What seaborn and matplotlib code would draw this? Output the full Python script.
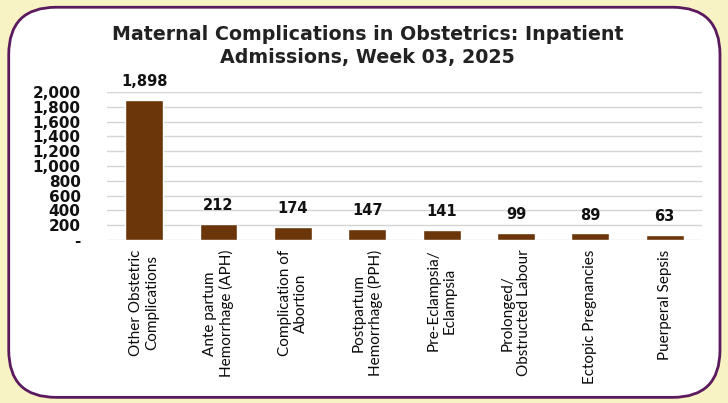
import pandas as pd
import matplotlib.pyplot as plt
import seaborn as sns
from matplotlib.patches import FancyBboxPatch
from matplotlib.ticker import FuncFormatter

# data
categories = ['Other Obstetric\nComplications', 'Ante partum\nHemorrhage (APH)', 'Complication of\nAbortion',
              'Postpartum\nHemorrhage (PPH)', 'Pre-Eclampsia/\nEclampsia', 'Prolonged/\nObstructed Labour',
              'Ectopic Pregnancies', 'Puerperal Sepsis']
admissions = [1898, 212, 174, 147, 141, 99, 89, 63]
yticks = list(range(0, 2001, 200))

df = pd.DataFrame({'complication': categories, 'admissions': admissions})

sns.set_style('white')
plt.rcParams['font.family'] = ['Lato', 'DejaVu Sans']

fig = plt.figure(figsize=(7.28, 4.03), dpi=100)
fig.patch.set_facecolor('#f7f3c4')

# white rounded panel with purple border
panel = FancyBboxPatch((0.012, 0.014), 0.977, 0.968, boxstyle='round,pad=0,rounding_size=0.065',
                       transform=fig.transFigure, facecolor='white', edgecolor='#5c1a5e',
                       linewidth=2, zorder=-10, mutation_aspect=728 / 403)
fig.patches.append(panel)

ax = fig.add_axes([0.147, 0.4045, 0.817, 0.367])
ax.set_facecolor('none')
ax.set_zorder(5)
sns.barplot(data=df, x='complication', y='admissions', color='#6b3609', width=0.51,
            saturation=1, ax=ax, zorder=3)

ax.set_ylim(0, 2000)
ax.set_xlim(-0.5, len(categories) - 0.5)
ax.set_yticks(yticks)
ax.yaxis.set_major_formatter(FuncFormatter(lambda v, p: '-' if v == 0 else f'{int(v):,}'))
ax.grid(axis='y', color='#d4d4d4', linewidth=1, zorder=0)
for s in ax.spines.values():
    s.set_visible(False)
ax.set_xlabel('')
ax.set_ylabel('')
ax.tick_params(axis='both', length=0)
for lbl in ax.get_yticklabels():
    lbl.set_family('DejaVu Sans')
    lbl.set_fontweight('bold')
    lbl.set_fontsize(11)
    lbl.set_color('#111111')
ax.tick_params(axis='y', pad=19)
ax.set_xticks(range(len(categories)))
ax.set_xticklabels(categories, rotation=90, fontsize=11, color='#0a0a0a',
                   linespacing=1.2, va='top', ha='center')
ax.tick_params(axis='x', pad=7)

for i, v in enumerate(admissions):
    ax.annotate(f'{v:,}', (i, v), xytext=(0, 10), textcoords='offset points',
                ha='center', va='baseline', fontsize=10.5, fontweight='bold',
                family='DejaVu Sans', color='#111111')

fig.text(0.505, 0.885, 'Maternal Complications in Obstetrics: Inpatient\nAdmissions, Week 03, 2025',
         ha='center', va='center', fontsize=13.7, fontweight='bold', color='#222222', linespacing=1.25,
         family='DejaVu Sans')

fig.savefig('out.png', dpi=100, facecolor=fig.get_facecolor())
